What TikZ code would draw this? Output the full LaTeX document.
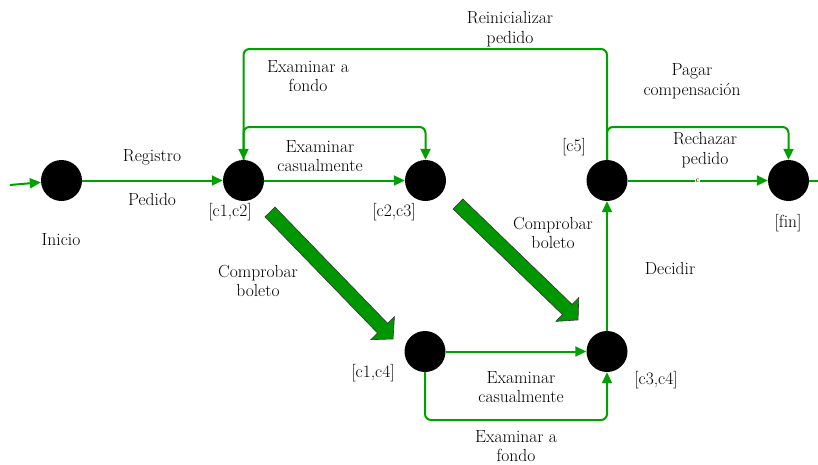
\documentclass[tikz,border=0pt]{standalone}
\usetikzlibrary{arrows.meta}
\definecolor{flowgreen}{RGB}{0,160,0}
\definecolor{fatgreen}{RGB}{0,150,0}
\begin{document}
\begin{tikzpicture}[x=1pt,y=-1pt,
  state/.style={circle, fill=black, minimum size=41pt, inner sep=0pt},
  flow/.style={draw=flowgreen, line width=2pt, -{Triangle[length=11pt,width=10pt]}},
  plainflow/.style={draw=flowgreen, line width=2pt},
  lbl/.style={font=\fontsize{17.5}{19.5}\selectfont, align=center, text=black, inner sep=0pt},
  smallc/.style={font=\fontsize{8}{8}\selectfont, fill=white, inner sep=0.5pt, text=black},
  fat/.style={fill=fatgreen, draw=black!80, line width=0.6pt, line join=miter}]
\useasboundingbox (0,0) rectangle (818,464);

% states
\node[state] (inicio) at (61.5,180.5) {};
\node[state] (c1c2) at (243.5,180.5) {};
\node[state] (c2c3) at (425.5,180.5) {};
\node[state] (c5) at (607,180.5) {};
\node[state] (fin) at (788.5,180.5) {};
\node[state] (c1c4) at (425,351.5) {};
\node[state] (c3c4) at (607,351.5) {};

% helper coordinates
\coordinate (start) at (10,185);
\coordinate (rtop) at (243.5,49);
\coordinate (lright) at (425.5,127);
\coordinate (pright) at (788.5,127);
\coordinate (bright) at (607,420);
\coordinate (out) at (818,180.5);

% connectors
\draw[flow] (start) -- (inicio);
\draw[flow] (inicio) -- (c1c2);
\draw[flow] (c1c2) -- (c2c3);
\draw[flow, rounded corners=6pt] (c1c2.north) |- (lright) -- (c2c3.north);
\draw[flow, rounded corners=6pt] (c5.north) |- (rtop) -- (c1c2.north);
\draw[flow, rounded corners=6pt] (c5.north) |- (pright) -- (fin.north);
\draw[flow] (c5) -- (fin) node[smallc, midway] (tc) {c};
\draw[plainflow] (fin) -- (out);
\draw[flow] (c3c4) -- (c5);
\draw[flow] (c1c4) -- (c3c4);
\draw[flow, rounded corners=6pt] (c1c4.south) |- (bright) -- (c3c4.south);

% fat arrows
\coordinate (fa1s) at (270,212);
\coordinate (fa1e) at (393,339);
\begin{scope}[shift={(fa1s)}, rotate=-45.9]
  \draw[fat] (0,-7) -- (161.8,-7) -- (161.8,-16.5) -- (176.8,0) -- (161.8,16.5) -- (161.8,7) -- (0,7) -- cycle;
\end{scope}
\coordinate (fa2s) at (458,204);
\coordinate (fa2e) at (578,320);
\begin{scope}[shift={(fa2s)}, rotate=-44.0]
  \draw[fat] (0,-7) -- (151.9,-7) -- (151.9,-16.5) -- (166.9,0) -- (151.9,16.5) -- (151.9,7) -- (0,7) -- cycle;
\end{scope}

% labels
\node[lbl] (tRegistro) at (152,157) {Registro};
\node[lbl] (tPedido) at (152,199) {Pedido};
\node[lbl] (tInicio) at (61,240) {Inicio};
\node[lbl] (tc1c2) at (230,212) {[c1,c2]};
\node[lbl] (tc2c3) at (394,212) {[c2,c3]};
\node[lbl] (tc5) at (574,147) {[c5]};
\node[lbl] (tfin) at (788,223) {[f\kern0pt{}in]};
\node[lbl] (tc1c4) at (373,373) {[c1,c4]};
\node[lbl] (tc3c4) at (656,380) {[c3,c4]};
\node[lbl] (tExC1) at (320,156) {Examinar\\casualmente};
\node[lbl] (tExF1) at (308,76) {Examinar a\\fondo};
\node[lbl] (tReini) at (510,29) {Reinicializar\\pedido};
\node[lbl] (tPagar) at (692,81) {Pagar\\compensación};
\node[lbl] (tRech) at (705,150) {Rechazar\\pedido};
\node[lbl] (tComp1) at (258,281) {Comprobar\\boleto};
\node[lbl] (tComp2) at (553,233) {Comprobar\\boleto};
\node[lbl] (tDec) at (670,268) {Decidir};
\node[lbl] (tExC2) at (521,387) {Examinar\\casualmente};
\node[lbl] (tExF2) at (516,446) {Examinar a\\fondo};
\end{tikzpicture}
\end{document}
